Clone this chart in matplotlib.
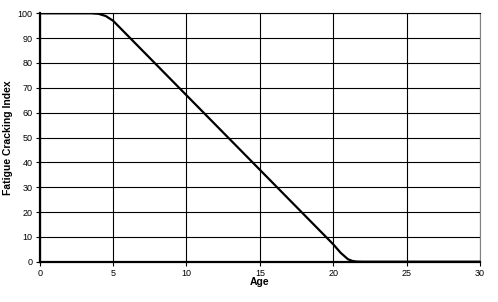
import matplotlib
matplotlib.use("Agg")
import matplotlib.pyplot as plt

age = [0, 1, 2, 3, 3.5, 4, 4.5, 5, 6, 7, 8, 9, 10, 11, 12, 13, 14, 15, 16, 17, 18, 19, 20, 20.5, 21, 21.3, 21.6, 22, 23, 25, 30]
index = [100, 100, 100, 100, 100, 99.8, 98.9, 97.0, 91.0, 85.0, 79.0, 73.0, 67.0, 61.0, 55.0, 49.0, 43.0, 37.0, 31.0, 25.0, 19.0, 13.0, 7.0, 3.6, 1.0, 0.3, 0.05, 0, 0, 0, 0]

xticks = [0, 5, 10, 15, 20, 25, 30]
yticks = [0, 10, 20, 30, 40, 50, 60, 70, 80, 90, 100]

plt.rcParams['font.family'] = ['Liberation Sans', 'DejaVu Sans']
fig = plt.figure(figsize=(4.98, 3.02), dpi=100)
ax = fig.add_axes([0.0797, 0.1334, 0.964 - 0.0797, 0.956 - 0.1334])
ax.plot(age, index, color='black', lw=1.6, solid_capstyle='butt', zorder=3)
ax.set_xlim(0, 30)
ax.set_ylim(0, 100)
ax.set_xticks(xticks)
ax.set_yticks(yticks)
ax.grid(True, color='black', lw=0.8)
for s in ax.spines.values():
    s.set_color('black')
    s.set_linewidth(0.8)
ax.spines['left'].set_linewidth(1.6)
ax.spines['bottom'].set_linewidth(1.6)
ax.spines['right'].set_color('#808080')
ax.tick_params(axis='both', labelsize=6.5, length=3, width=0.8, direction='out', pad=2, colors='black')
ax.set_xlabel('Age', fontsize=7.5, fontweight='bold')
ax.set_ylabel('Fatigue Cracking Index', fontsize=7.5, fontweight='bold')
ax.yaxis.set_label_coords(-0.072, 0.5)
ax.xaxis.set_label_coords(0.5, -0.082)
ax.xaxis.label.set_va('center')
ax.yaxis.label.set_va('center')
fig.savefig('out.png', dpi=100)
